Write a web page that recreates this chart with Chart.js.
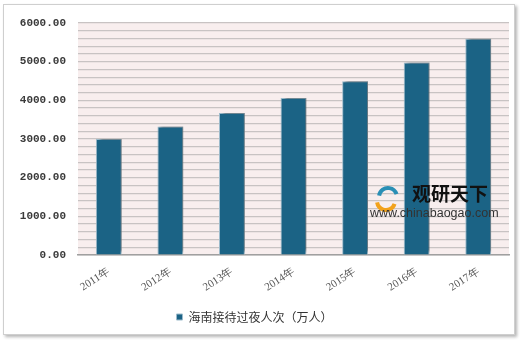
<!DOCTYPE html>
<html>
<head>
<meta charset="utf-8">
<script src="https://cdn.jsdelivr.net/npm/chart.js@4"></script>
<style>
  body { margin: 0; background: #fff; }
  #frame { position: absolute; left: 3px; top: 4px; width: 510px; height: 329px;
           border: 1px solid #cfcfcf; box-shadow: 2px 2px 3px #b5b5b5; background: #fff; }
  #wrap { position: absolute; left: 0; top: 0; width: 520px; height: 341px; }
</style>
</head>
<body>
<div id="frame"></div>
<div id="wrap"><canvas id="myChart" width="520" height="341"></canvas></div>
<script>
const years = ['2011年', '2012年', '2013年', '2014年', '2015年', '2016年', '2017年'];
const visitors = [3001.34, 3320.37, 3672.51, 4060.18, 4492.09, 4977.28, 5591.43];
const seriesName = '海南接待过夜人次（万人）';

// pink plot background
const plotBg = {
  id: 'plotBg',
  beforeDraw(chart) {
    const a = chart.chartArea, ctx = chart.ctx;
    ctx.save();
    ctx.fillStyle = '#f8eeee';
    ctx.fillRect(a.left, a.top, a.right - a.left, a.bottom - a.top);
    ctx.restore();
  }
};

// shadow behind the bars
const barShadow = {
  id: 'barShadow',
  beforeDatasetsDraw(chart) {
    const ctx = chart.ctx;
    ctx.save();
    ctx.shadowColor = 'rgba(0,0,0,0.4)';
    ctx.shadowBlur = 3;
    ctx.shadowOffsetX = 3;
    ctx.shadowOffsetY = -2;
  },
  afterDatasetsDraw(chart) {
    chart.ctx.restore();
  }
};

// watermark
const mark = {
  id: 'mark',
  afterDatasetsDraw(chart) {
    const ctx = chart.ctx;
    ctx.save();
    ctx.lineWidth = 4;
    ctx.strokeStyle = '#2a8fb5';
    ctx.beginPath(); ctx.arc(388, 197, 9, Math.PI * 1.05, Math.PI * 1.9); ctx.stroke();
    ctx.strokeStyle = '#f2a21b';
    ctx.beginPath(); ctx.arc(386, 201, 9, Math.PI * 0.1, Math.PI * 0.95); ctx.stroke();
    ctx.fillStyle = '#111';
    ctx.font = 'bold 19px "Noto Sans CJK SC"';
    ctx.textBaseline = 'middle';
    ctx.fillText('观研天下', 412, 194);
    ctx.fillStyle = '#333';
    ctx.font = '12.5px "Liberation Sans"';
    ctx.fillText('www.chinabaogao.com', 370, 214);
    ctx.restore();
  }
};

new Chart(document.getElementById('myChart'), {
  type: 'bar',
  data: {
    labels: years,
    datasets: [{
      label: seriesName,
      data: visitors,
      backgroundColor: '#1b6385',
      borderColor: '#9dbccc',
      borderWidth: 1,
      categoryPercentage: 0.42,
      barPercentage: 1
    }]
  },
  options: {
    responsive: false,
    animation: false,
    layout: { padding: { left: 0, right: 11, top: 23, bottom: 8 } },
    scales: {
      y: {
        min: 0, max: 6000,
        afterFit(scale) { scale.width = 78; },
        border: { display: false },
        grid: { color: '#c8c3c3', lineWidth: 1.2, drawTicks: false },
        ticks: {
          stepSize: 200,
          autoSkip: false,
          maxTicksLimit: 100,
          padding: 12,
          color: '#3a3a3a',
          font: { family: 'Liberation Mono', size: 11, weight: 'bold' },
          callback: v => (v % 1000 === 0 ? v.toFixed(2) : '')
        }
      },
      x: {
        afterFit(scale) { scale.height = 46; },
        border: { color: '#a0a0a0', width: 1.5 },
        grid: { display: false },
        ticks: {
          minRotation: 33, maxRotation: 33,
          padding: 2,
          color: '#555',
          font: { family: 'Liberation Serif', size: 11 }
        }
      }
    },
    plugins: {
      legend: {
        position: 'bottom',
        labels: {
          boxWidth: 6, boxHeight: 6,
          padding: 10,
          color: '#333',
          font: { family: 'Noto Sans CJK SC', size: 12 }
        }
      },
      tooltip: { enabled: false }
    }
  },
  plugins: [plotBg, barShadow, mark]
});
</script>
</body>
</html>
